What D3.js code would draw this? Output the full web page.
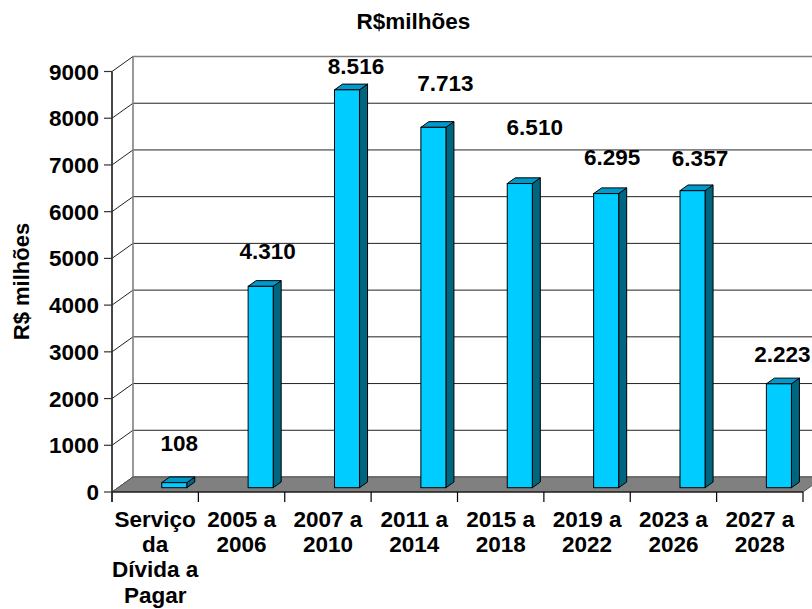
<!DOCTYPE html>
<html>
<head>
<meta charset="utf-8">
<script src="https://cdn.jsdelivr.net/npm/d3@7"></script>
<style>
    body { margin: 0; background: #fff; }
    text { font-family: "Liberation Sans", Arial, sans-serif; font-weight: bold; fill: #000; }
</style>
</head>
<body>
<div class="container"></div>
<script>
// chart data
let categories = ["Serviço\nda\nDívida a\nPagar", "2005 a\n2006", "2007 a\n2010", "2011 a\n2014",
    "2015 a\n2018", "2019 a\n2022", "2023 a\n2026", "2027 a\n2028"];
let values = [108, 4310, 8516, 7713, 6510, 6295, 6357, 2223];
let yTicks = [0, 1000, 2000, 3000, 4000, 5000, 6000, 7000, 8000, 9000];
let title = "R$milhões";
let yTitle = "R$ milhões";

// hand-placed label nudges (px) seen in the original
let labelDx = [1, 3, 5, 8, 11, 2, 3.5, -0.5];
let labelDy = [-31.5, -27, -16, -36.5, -49, -29, -25, -21.5];

let width = 812, height = 609;
let wall = { dx: 21, dy: -15 };      // depth of back wall
let bar3d = { dx: 8, dy: -5.7 };     // depth of each column
let barLift = 4.3;                   // columns sit a bit back on the floor

let svg = d3.select(".container").append("svg")
    .attr("width", width)
    .attr("height", height)
    .style("display", "block");

svg.append("rect").attr("width", width).attr("height", height).attr("fill", "#fff");

let xScale = d3.scaleBand()
    .domain(categories)
    .range([112, 803])
    .padding(0);

let yScale = d3.scaleLinear()
    .domain([0, 9000])
    .range([492, 71.5]);

let locale = d3.formatLocale({ decimal: ",", thousands: ".", grouping: [3], currency: ["R$", ""] });
let fmt = locale.format(",d");

let x0 = xScale.range()[0], x1 = xScale.range()[1];

// gridlines on side wall and back wall
let grid = svg.append("g").attr("class", "grid");
yTicks.forEach(function (t) {
    let y = yScale(t);
    grid.append("line")
        .attr("x1", x0).attr("y1", y)
        .attr("x2", x0 + wall.dx).attr("y2", y + wall.dy)
        .attr("stroke", "#222").attr("stroke-width", 1);
    grid.append("line")
        .attr("x1", x0 + wall.dx).attr("y1", y + wall.dy)
        .attr("x2", x1 + wall.dx + 10).attr("y2", y + wall.dy)
        .attr("stroke", t === 9000 ? "#808080" : "#222")
        .attr("stroke-width", t === 9000 ? 1.6 : 1);
});

// back wall left edge
svg.append("line")
    .attr("x1", x0 + wall.dx).attr("y1", yScale(9000) + wall.dy)
    .attr("x2", x0 + wall.dx).attr("y2", yScale(0) + wall.dy)
    .attr("stroke", "#808080").attr("stroke-width", 1.6);

// floor
let floorPts = [
    [x0, yScale(0)], [x1, yScale(0)],
    [x1 + wall.dx, yScale(0) + wall.dy], [x0 + wall.dx, yScale(0) + wall.dy]
];
svg.append("polygon")
    .attr("points", floorPts.map(p => p.join(",")).join(" "))
    .attr("fill", "#808080")
    .attr("stroke", "#555")
    .attr("stroke-width", 1);

// x axis line and ticks
svg.append("line")
    .attr("x1", x0).attr("y1", yScale(0))
    .attr("x2", x1).attr("y2", yScale(0))
    .attr("stroke", "#000").attr("stroke-width", 1.2);

let bounds = categories.map(c => xScale(c)).concat([x1]);
svg.selectAll(".xtick")
    .data(bounds)
    .enter()
    .append("line")
    .attr("class", "xtick")
    .attr("x1", d => d).attr("x2", d => d)
    .attr("y1", yScale(0)).attr("y2", yScale(0) + 10)
    .attr("stroke", "#000").attr("stroke-width", 1.2);

// y axis line and ticks
svg.append("line")
    .attr("x1", x0).attr("y1", yScale(9000))
    .attr("x2", x0).attr("y2", yScale(0) + 10)
    .attr("stroke", "#333").attr("stroke-width", 1.8);

svg.selectAll(".ytick")
    .data(yTicks)
    .enter()
    .append("line")
    .attr("class", "ytick")
    .attr("x1", x0 - 8).attr("x2", x0)
    .attr("y1", d => yScale(d)).attr("y2", d => yScale(d))
    .attr("stroke", "#333").attr("stroke-width", 1.2);

svg.selectAll(".ylabel")
    .data(yTicks)
    .enter()
    .append("text")
    .attr("class", "ylabel")
    .attr("x", x0 - 13)
    .attr("y", d => yScale(d))
    .attr("dy", "0.36em")
    .attr("text-anchor", "end")
    .style("font-size", "22.5px")
    .text(d => d);

// columns
let bw = xScale.bandwidth();
let bars = svg.selectAll(".bar")
    .data(values)
    .enter()
    .append("g")
    .attr("class", "bar");

function pts(arr) {
    return arr.map(p => p.join(",")).join(" ");
}

bars.each(function (v, i) {
    let g = d3.select(this);
    let left = xScale(categories[i]) + bw * 0.576;
    let right = left + bw * 0.29;
    let top = yScale(v) - barLift;
    let bottom = yScale(0) - barLift;

    // side
    g.append("polygon")
        .attr("points", pts([[right, top], [right + bar3d.dx, top + bar3d.dy],
            [right + bar3d.dx, bottom + bar3d.dy], [right, bottom]]))
        .attr("fill", "#006680").attr("stroke", "#000").attr("stroke-width", 1)
        .attr("stroke-linejoin", "round");
    // top
    g.append("polygon")
        .attr("points", pts([[left, top], [left + bar3d.dx, top + bar3d.dy],
            [right + bar3d.dx, top + bar3d.dy], [right, top]]))
        .attr("fill", "#0099CC").attr("stroke", "#000").attr("stroke-width", 1)
        .attr("stroke-linejoin", "round");
    // front
    g.append("rect")
        .attr("x", left).attr("y", top)
        .attr("width", right - left).attr("height", bottom - top)
        .attr("fill", "#00CCFF").attr("stroke", "#000").attr("stroke-width", 1);
});

// value labels
svg.selectAll(".vlabel")
    .data(values)
    .enter()
    .append("text")
    .attr("class", "vlabel")
    .attr("x", (d, i) => xScale(categories[i]) + bw * 0.576 + bw * 0.145 + bar3d.dx / 2 + labelDx[i])
    .attr("y", (d, i) => yScale(d) - barLift + labelDy[i])
    .attr("text-anchor", "middle")
    .style("font-size", "22.5px")
    .text(d => fmt(d));

// category labels
svg.selectAll(".xlabel")
    .data(categories)
    .enter()
    .append("text")
    .attr("class", "xlabel")
    .attr("text-anchor", "middle")
    .style("font-size", "22.5px")
    .each(function (d) {
        let t = d3.select(this);
        d.split("\n").forEach(function (line, k) {
            t.append("tspan")
                .attr("x", xScale(d) + bw / 2)
                .attr("y", 526.7 + k * 25.3)
                .text(line);
        });
    });

// titles
svg.append("text")
    .attr("x", 413.5)
    .attr("y", 29.3)
    .attr("text-anchor", "middle")
    .style("font-size", "22.5px")
    .text(title);

svg.append("text")
    .attr("transform", "translate(29,281.5) rotate(-90)")
    .attr("text-anchor", "middle")
    .style("font-size", "22px")
    .text(yTitle);
</script>
</body>
</html>
